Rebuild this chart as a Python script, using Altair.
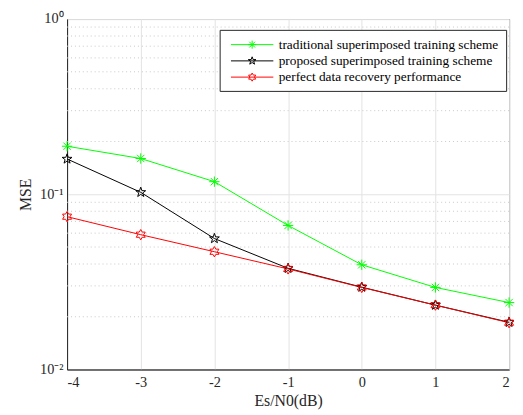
import math
import altair as alt
import pandas as pd

# ---- data ----
x_vals = [-4, -3, -2, -1, 0, 1, 2]
traditional = [0.188, 0.160, 0.118, 0.0664, 0.0396, 0.0294, 0.0241]
proposed = [0.159, 0.1026, 0.0559, 0.0378, 0.0295, 0.0233, 0.0186]
perfect = [0.0745, 0.0588, 0.0470, 0.0375, 0.0294, 0.0233, 0.0185]
series_names = [
    "traditional superimposed training scheme",
    "proposed superimposed training scheme",
    "perfect data recovery performance",
]
series_colors = ["#00ff00", "#000000", "#ff0000"]
y_major = [0.01, 0.1, 1]
minor_grid = [0.02, 0.03, 0.04, 0.05, 0.06, 0.07, 0.08, 0.09,
              0.2, 0.3, 0.4, 0.5, 0.6, 0.7, 0.8, 0.9]

FONT = "'Liberation Serif', 'Times New Roman', Times, serif"
AXIS_COLOR = "#262626"


# ---- marker shapes (unit square paths) ----
def fmt(v):
    return f"{v:.3f}"


def asterisk(s=1.0):
    d = 0.707 * s
    return (f"M{fmt(-s)},0L{fmt(s)},0M0,{fmt(-s)}L0,{fmt(s)}"
            f"M{fmt(-d)},{fmt(-d)}L{fmt(d)},{fmt(d)}M{fmt(-d)},{fmt(d)}L{fmt(d)},{fmt(-d)}")


def star_poly(n, r_in, s=1.0):
    pts = []
    for i in range(2 * n):
        r = s if i % 2 == 0 else s * r_in
        a = -math.pi / 2 + i * math.pi / n
        pts.append((r * math.cos(a), r * math.sin(a)))
    return "M" + "L".join(f"{fmt(px)},{fmt(py)}" for px, py in pts) + "Z"


marker_paths = [asterisk(), star_poly(5, 0.40), star_poly(6, 0.577)]
# legend symbol: unit = 7.5 px (size 225); line spans +-21.5 px
half_line = 2.87
ms = 0.55
legend_paths = [f"M{fmt(-half_line)},0L{fmt(half_line)},0" + asterisk(ms),
                f"M{fmt(-half_line)},0L{fmt(half_line)},0" + star_poly(5, 0.40, ms),
                f"M{fmt(-half_line)},0L{fmt(half_line)},0" + star_poly(6, 0.577, ms)]

rows = []
for name, vals in zip(series_names, [traditional, proposed, perfect]):
    for xv, yv in zip(x_vals, vals):
        rows.append({"x": xv, "mse": yv, "series": name})
df = pd.DataFrame(rows)

x_enc = alt.X("x:Q", scale=alt.Scale(domain=[-4, 2], nice=False),
              axis=alt.Axis(values=x_vals, title="Es/N0(dB)", grid=True,
                            gridColor="#e3e3e3", ticks=False, labelPadding=6,
                            titlePadding=4,
                            labelExpr="datum.value < 0 ? '-' + abs(datum.value) : '' + datum.value"))
y_enc = alt.Y("mse:Q", scale=alt.Scale(type="log", domain=[0.01, 1], nice=False),
              axis=alt.Axis(values=y_major, title="MSE", grid=True, gridColor="#e3e3e3",
                            ticks=False, labelPadding=4, titlePadding=6,
                            labelExpr="datum.value >= 1 ? '10⁰' : (datum.value >= 0.1 ? '10⁻¹' : '10⁻²')"))

minor = alt.Chart(pd.DataFrame({"g": minor_grid})).mark_rule(
    color="#c8c8c8", strokeDash=[1, 3], strokeWidth=1
).encode(y=alt.Y("g:Q", scale=alt.Scale(type="log", domain=[0.01, 1], nice=False)))

base = alt.Chart(df)
series_layers = []
for i, (name, col) in enumerate(zip(series_names, series_colors)):
    sub = base.transform_filter(alt.datum.series == name)
    series_layers.append(
        sub.mark_line(strokeWidth=1, color=col).encode(
            x=x_enc if i == 0 else alt.X("x:Q"),
            y=y_enc if i == 0 else alt.Y("mse:Q"),
        )
    )
for name, col, path in zip(series_names, series_colors, marker_paths):
    sub = base.transform_filter(alt.datum.series == name)
    series_layers.append(
        sub.mark_point(filled=False, size=110, strokeWidth=1, opacity=1,
                       shape=path, color=col).encode(x="x:Q", y="mse:Q")
    )

leg = alt.Legend(orient="none", legendX=155, legendY=11, title=None,
                 symbolSize=225, symbolStrokeWidth=1, symbolFillColor="transparent",
                 symbolOffset=18,
                 labelFont=FONT, labelFontSize=13.5, labelColor="#000000", labelOffset=19,
                 padding=7, rowPadding=1.5, strokeColor="#262626", fillColor="#ffffff",
                 cornerRadius=0, labelLimit=400)
legend_layer = alt.Chart(pd.DataFrame({"lg": series_names})).transform_filter(
    "false"
).mark_point(filled=False, opacity=1).encode(
    color=alt.Color("lg:N", scale=alt.Scale(domain=series_names, range=series_colors), legend=leg),
    shape=alt.Shape("lg:N", scale=alt.Scale(domain=series_names, range=legend_paths), legend=leg),
)

chart = alt.layer(minor, *series_layers, legend_layer).properties(
    width=449, height=356,
    autosize=alt.AutoSizeParams(type="none"),
    padding={"left": 60, "top": 8, "right": 6, "bottom": 43},
).configure_view(stroke=AXIS_COLOR, strokeWidth=1).configure_axis(
    labelFont=FONT, titleFont=FONT, labelFontSize=14.5, titleFontSize=16,
    labelColor="#262626", titleColor="#262626", titleFontWeight="normal",
    domainColor=AXIS_COLOR,
)

chart.save("out.html", embed_options={"renderer": "svg", "actions": False})
